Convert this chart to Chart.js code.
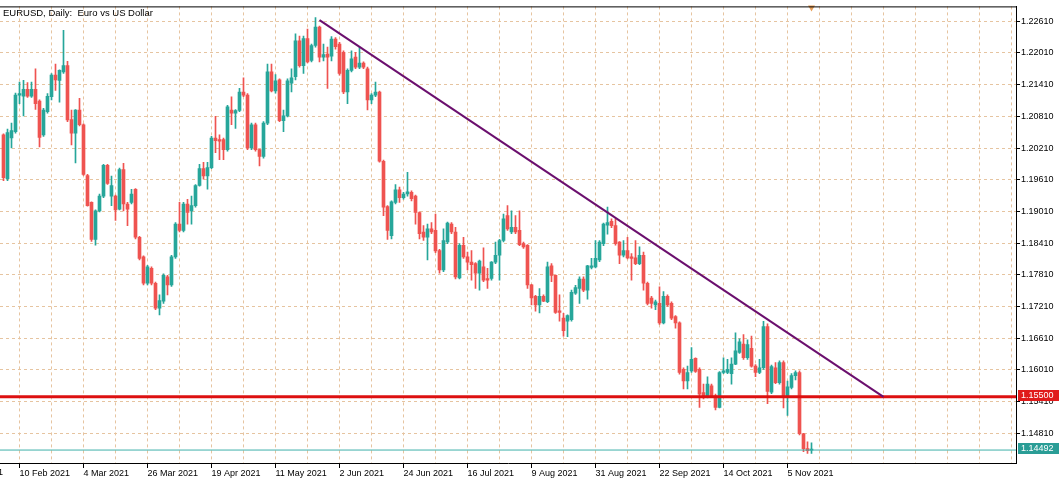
<!DOCTYPE html>
<html>
<head>
<meta charset="utf-8">
<title>EURUSD Daily</title>
<script src="https://cdn.jsdelivr.net/npm/chart.js@4.4.1/dist/chart.umd.min.js"></script>
<style>
  html, body { margin: 0; padding: 0; background: #fff; }
  #wrap { width: 1060px; height: 483px; }
</style>
</head>
<body>
<div id="wrap"><canvas id="chart" width="1060" height="483"></canvas></div>
<script>
// Daily EURUSD candles, one per trading day starting 4 Feb 2021 (bar index 0)
const opens = [
  1.2046, 1.1963, 1.2040, 1.2052, 1.2121, 1.2119, 1.2132, 1.2119, 1.2132, 1.2110,
  1.2046, 1.2090, 1.2118, 1.2159, 1.2149, 1.2165, 1.2177, 1.2075, 1.2049, 1.2093,
  1.2065, 1.1969, 1.1918, 1.1848, 1.1902, 1.1930, 1.1988, 1.1930, 1.1930, 1.1905,
  1.1980, 1.1915, 1.1918, 1.1943, 1.1852, 1.1815, 1.1765, 1.1793, 1.1765, 1.1718,
  1.1731, 1.1777, 1.1762, 1.1815, 1.1877, 1.1865, 1.1915, 1.1902, 1.1912, 1.1950,
  1.1982, 1.1968, 1.1984, 1.2040, 1.2037, 1.2037, 1.2018, 1.2093, 1.2087, 1.2092,
  1.2127, 1.2121, 1.2021, 1.2065, 1.2018, 1.2005, 1.2068, 1.2165, 1.2129, 1.2150,
  1.2073, 1.2082, 1.2144, 1.2156, 1.2224, 1.2177, 1.2228, 1.2187, 1.2215, 1.2250,
  1.2193, 1.2199, 1.2195, 1.2227, 1.2218, 1.2202, 1.2127, 1.2168, 1.2193, 1.2174,
  1.2182, 1.2171, 1.2112, 1.2121, 1.2127, 1.1996, 1.1910, 1.1855, 1.1918, 1.1942,
  1.1927, 1.1934, 1.1937, 1.1930, 1.1899, 1.1862, 1.1852, 1.1868, 1.1865, 1.1827,
  1.1790, 1.1843, 1.1877, 1.1862, 1.1775, 1.1837, 1.1815, 1.1805, 1.1802, 1.1784,
  1.1796, 1.1774, 1.1774, 1.1805, 1.1818, 1.1846, 1.1893, 1.1862, 1.1871, 1.1865,
  1.1840, 1.1837, 1.1762, 1.1740, 1.1724, 1.1740, 1.1730, 1.1798, 1.1780, 1.1713,
  1.1699, 1.1693, 1.1696, 1.1746, 1.1755, 1.1773, 1.1752, 1.1795, 1.1796, 1.1809,
  1.1840, 1.1875, 1.1882, 1.1874, 1.1843, 1.1818, 1.1827, 1.1815, 1.1813, 1.1802,
  1.1818, 1.1765, 1.1737, 1.1724, 1.1727, 1.1690, 1.1740, 1.1727, 1.1702, 1.1690,
  1.1602, 1.1580, 1.1599, 1.1623, 1.1602, 1.1558, 1.1549, 1.1571, 1.1552, 1.1530,
  1.1596, 1.1596, 1.1594, 1.1612, 1.1634, 1.1650, 1.1624, 1.1642, 1.1608, 1.1596,
  1.1605, 1.1683, 1.1559, 1.1605, 1.1577, 1.1615, 1.1552, 1.1568, 1.1590, 1.1596,
  1.1480, 1.1452, 1.1449
];
const highs = [
  1.2048, 1.2057, 1.2068, 1.2125, 1.2146, 1.2149, 1.2145, 1.2146, 1.2171, 1.2112,
  1.2096, 1.2124, 1.2162, 1.2180, 1.2169, 1.2244, 1.2185, 1.2093, 1.2094, 1.2115,
  1.2067, 1.1971, 1.1919, 1.1904, 1.1934, 1.1990, 1.1990, 1.1968, 1.1932, 1.1983,
  1.1992, 1.1918, 1.1943, 1.1944, 1.1854, 1.1817, 1.1799, 1.1796, 1.1767, 1.1743,
  1.1783, 1.1780, 1.1818, 1.1880, 1.1918, 1.1918, 1.1924, 1.1930, 1.1952, 1.1990,
  1.1994, 1.1994, 1.2043, 1.2081, 1.2046, 1.2040, 1.2102, 1.2118, 1.2094, 1.2134,
  1.2154, 1.2124, 1.2068, 1.2068, 1.2019, 1.2071, 1.2180, 1.2180, 1.2160, 1.2152,
  1.2093, 1.2152, 1.2171, 1.2237, 1.2233, 1.2233, 1.2246, 1.2218, 1.2268, 1.2252,
  1.2218, 1.2212, 1.2232, 1.2230, 1.2221, 1.2205, 1.2171, 1.2205, 1.2202, 1.2212,
  1.2184, 1.2174, 1.2124, 1.2146, 1.2129, 1.1998, 1.1912, 1.1921, 1.1952, 1.1947,
  1.1937, 1.1975, 1.1940, 1.1932, 1.1900, 1.1874, 1.1877, 1.1880, 1.1896, 1.1829,
  1.1868, 1.1881, 1.1880, 1.1871, 1.1840, 1.1852, 1.1824, 1.1827, 1.1804, 1.1809,
  1.1832, 1.1793, 1.1806, 1.1843, 1.1848, 1.1896, 1.1912, 1.1902, 1.1893, 1.1902,
  1.1843, 1.1838, 1.1763, 1.1742, 1.1755, 1.1743, 1.1805, 1.1802, 1.1781, 1.1743,
  1.1708, 1.1705, 1.1752, 1.1761, 1.1777, 1.1777, 1.1799, 1.1812, 1.1846, 1.1846,
  1.1879, 1.1909, 1.1887, 1.1887, 1.1844, 1.1846, 1.1852, 1.1821, 1.1846, 1.1834,
  1.1824, 1.1767, 1.1740, 1.1733, 1.1758, 1.1749, 1.1743, 1.1730, 1.1704, 1.1692,
  1.1605, 1.1608, 1.1643, 1.1624, 1.1605, 1.1574, 1.1588, 1.1574, 1.1555, 1.1598,
  1.1624, 1.1621, 1.1624, 1.1671, 1.1660, 1.1668, 1.1658, 1.1665, 1.1611, 1.1621,
  1.1693, 1.1688, 1.1610, 1.1615, 1.1618, 1.1618, 1.1580, 1.1594, 1.1599, 1.1599,
  1.1481, 1.1465, 1.1463
];
const lows = [
  1.1959, 1.1959, 1.2021, 1.2049, 1.2105, 1.2082, 1.2117, 1.2117, 1.2094, 1.2023,
  1.2043, 1.2087, 1.2112, 1.2130, 1.2108, 1.2162, 1.2071, 1.2027, 1.1993, 1.2063,
  1.1969, 1.1911, 1.1844, 1.1837, 1.1900, 1.1927, 1.1952, 1.1912, 1.1884, 1.1904,
  1.1902, 1.1874, 1.1915, 1.1849, 1.1809, 1.1762, 1.1762, 1.1762, 1.1715, 1.1705,
  1.1727, 1.1743, 1.1759, 1.1812, 1.1862, 1.1862, 1.1877, 1.1877, 1.1909, 1.1949,
  1.1962, 1.1943, 1.1982, 1.2012, 1.1999, 1.1999, 1.2015, 1.2065, 1.2058, 1.2090,
  1.2118, 1.2018, 1.2018, 1.2015, 1.1987, 1.2002, 1.2065, 1.2127, 1.2125, 1.2071,
  1.2052, 1.2080, 1.2127, 1.2150, 1.2174, 1.2162, 1.2182, 1.2184, 1.2212, 1.2184,
  1.2186, 1.2134, 1.2186, 1.2208, 1.2159, 1.2124, 1.2105, 1.2165, 1.2171, 1.2171,
  1.2171, 1.2093, 1.2105, 1.2118, 1.1994, 1.1893, 1.1848, 1.1849, 1.1915, 1.1918,
  1.1924, 1.1930, 1.1921, 1.1877, 1.1849, 1.1846, 1.1809, 1.1859, 1.1823, 1.1784,
  1.1787, 1.1840, 1.1859, 1.1773, 1.1773, 1.1812, 1.1790, 1.1771, 1.1755, 1.1752,
  1.1768, 1.1755, 1.1771, 1.1802, 1.1771, 1.1843, 1.1865, 1.1859, 1.1859, 1.1836,
  1.1831, 1.1755, 1.1724, 1.1712, 1.1709, 1.1730, 1.1728, 1.1768, 1.1708, 1.1693,
  1.1665, 1.1664, 1.1693, 1.1744, 1.1727, 1.1749, 1.1735, 1.1792, 1.1794, 1.1806,
  1.1836, 1.1858, 1.1870, 1.1837, 1.1802, 1.1815, 1.1811, 1.1771, 1.1800, 1.1800,
  1.1752, 1.1724, 1.1718, 1.1715, 1.1687, 1.1688, 1.1721, 1.1696, 1.1680, 1.1593,
  1.1565, 1.1565, 1.1596, 1.1596, 1.1530, 1.1546, 1.1548, 1.1549, 1.1525, 1.1529,
  1.1594, 1.1594, 1.1574, 1.1611, 1.1632, 1.1621, 1.1621, 1.1606, 1.1588, 1.1594,
  1.1602, 1.1537, 1.1556, 1.1575, 1.1574, 1.1529, 1.1515, 1.1565, 1.1582, 1.1478,
  1.1446, 1.1443, 1.1443
];
const closes = [
  1.1965, 1.2050, 1.2054, 1.2121, 1.2124, 1.2132, 1.2119, 1.2132, 1.2105, 1.2041,
  1.2093, 1.2119, 1.2159, 1.2150, 1.2168, 1.2177, 1.2074, 1.2049, 1.2093, 1.2065,
  1.1971, 1.1912, 1.1848, 1.1902, 1.1930, 1.1988, 1.1954, 1.1950, 1.1904, 1.1980,
  1.1915, 1.1905, 1.1934, 1.1852, 1.1812, 1.1765, 1.1796, 1.1765, 1.1718, 1.1732,
  1.1780, 1.1762, 1.1815, 1.1877, 1.1865, 1.1915, 1.1899, 1.1912, 1.1950, 1.1982,
  1.1968, 1.1984, 1.2040, 1.2035, 1.2034, 1.2018, 1.2099, 1.2087, 1.2092, 1.2127,
  1.2121, 1.2021, 1.2065, 1.2018, 1.2005, 1.2068, 1.2165, 1.2129, 1.2148, 1.2073,
  1.2082, 1.2148, 1.2154, 1.2224, 1.2177, 1.2228, 1.2184, 1.2215, 1.2250, 1.2193,
  1.2198, 1.2193, 1.2227, 1.2213, 1.2162, 1.2127, 1.2168, 1.2190, 1.2174, 1.2182,
  1.2174, 1.2112, 1.2121, 1.2127, 1.1996, 1.1909, 1.1865, 1.1919, 1.1942, 1.1927,
  1.1934, 1.1938, 1.1925, 1.1899, 1.1859, 1.1852, 1.1868, 1.1862, 1.1826, 1.1790,
  1.1846, 1.1879, 1.1862, 1.1777, 1.1837, 1.1815, 1.1805, 1.1800, 1.1784, 1.1807,
  1.1771, 1.1771, 1.1805, 1.1818, 1.1846, 1.1887, 1.1868, 1.1871, 1.1862, 1.1838,
  1.1834, 1.1762, 1.1737, 1.1724, 1.1740, 1.1731, 1.1796, 1.1780, 1.1710, 1.1710,
  1.1675, 1.1704, 1.1748, 1.1757, 1.1773, 1.1752, 1.1798, 1.1798, 1.1812, 1.1843,
  1.1877, 1.1880, 1.1874, 1.1840, 1.1818, 1.1827, 1.1813, 1.1812, 1.1802, 1.1818,
  1.1765, 1.1727, 1.1727, 1.1730, 1.1690, 1.1740, 1.1724, 1.1699, 1.1690, 1.1596,
  1.1580, 1.1596, 1.1621, 1.1598, 1.1555, 1.1549, 1.1574, 1.1552, 1.1530, 1.1596,
  1.1599, 1.1602, 1.1612, 1.1637, 1.1654, 1.1624, 1.1649, 1.1608, 1.1596, 1.1605,
  1.1683, 1.1560, 1.1607, 1.1577, 1.1615, 1.1552, 1.1569, 1.1590, 1.1596, 1.1480,
  1.1452, 1.1448, 1.14492
];

// axis labels
const dateLabels = ['21 Jan 2021', '10 Feb 2021', '4 Mar 2021', '26 Mar 2021', '19 Apr 2021',
  '11 May 2021', '2 Jun 2021', '24 Jun 2021', '16 Jul 2021', '9 Aug 2021', '31 Aug 2021',
  '22 Sep 2021', '14 Oct 2021', '5 Nov 2021'];
const firstLabelBar = -12;   // bar index of the first date label (left of the visible area)
const priceTicks = [1.14810, 1.15410, 1.16010, 1.16610, 1.17210, 1.17810, 1.18410,
  1.19010, 1.19610, 1.20210, 1.20810, 1.21410, 1.22010, 1.22610];

// drawn objects
const supportLevel = 1.15500;
const lastPrice = 1.14492;
const trendStart = { bar: 79, price: 1.2263 };
const trendEnd = { bar: 220, price: 1.1550 };
const shiftMarker = { bar: 202, price: 1.2287 };

const TEAL = '#26a69a';
const RED = '#ef5350';
const GRID = '#e6c4a0';
const FONT = { family: 'Liberation Sans, Arial, sans-serif', size: 9 };

const barLabel = v => {
  const k = (v - firstLabelBar) / 16;
  return Number.isInteger(k) && k >= 0 && k < dateLabels.length ? dateLabels[k] : '';
};

const candleColor = ctx => {
  const i = ctx.dataIndex;
  if (i === undefined) return TEAL;
  return closes[i] >= opens[i] ? TEAL : RED;
};

// title, top frame line, the clipped first date and the price boxes on the right axis
const overlayPlugin = {
  id: 'overlay',
  afterDraw(chart) {
    const { ctx, chartArea } = chart;
    const xScale = chart.scales.x;
    const yScale = chart.scales.y;
    ctx.save();
    ctx.strokeStyle = '#000';
    ctx.lineWidth = 1;
    ctx.beginPath();
    ctx.moveTo(chartArea.left, chartArea.top + 0.5);
    ctx.lineTo(chartArea.right, chartArea.top + 0.5);
    ctx.stroke();

    ctx.font = '9.5px "Liberation Sans", Arial, sans-serif';
    ctx.fillStyle = '#000';
    ctx.textBaseline = 'alphabetic';
    ctx.textAlign = 'left';
    ctx.fillText('EURUSD, Daily:  Euro vs US Dollar', 3, 16);

    // first date label sits left of the plot, only its tail shows
    ctx.font = '9px "Liberation Sans", Arial, sans-serif';
    ctx.textBaseline = 'top';
    ctx.fillText(dateLabels[0], xScale.getPixelForValue(firstLabelBar) - 2, chartArea.bottom + 5);

    const box = (price, bg) => {
      const y = Math.round(yScale.getPixelForValue(price));
      ctx.fillStyle = bg;
      ctx.fillRect(chartArea.right + 2, y - 7, 41, 11);
      ctx.fillStyle = '#fff';
      ctx.textBaseline = 'middle';
      ctx.fillText(price.toFixed(5), chartArea.right + 5, y - 1);
    };
    box(supportLevel, '#e01b1b');
    box(lastPrice, '#2a9d96');
    ctx.restore();
  }
};

new Chart(document.getElementById('chart'), {
  type: 'bar',
  data: {
    datasets: [{
      label: 'wicks',
      data: opens.map((o, i) => ({ x: i, y: [lows[i], highs[i]] })),
      backgroundColor: candleColor,
      borderWidth: 0,
      barThickness: 1,
      grouped: false,
      order: 3
    }, {
      label: 'bodies',
      data: opens.map((o, i) => ({ x: i, y: [o, closes[i]] })),
      backgroundColor: candleColor,
      borderWidth: 0,
      barThickness: 3,
      minBarLength: 1,
      grouped: false,
      order: 2
    }, {
      type: 'line',
      label: 'support',
      data: [{ x: -5, y: supportLevel }, { x: 260, y: supportLevel }],
      borderColor: '#dd1010',
      borderWidth: 3,
      pointRadius: 0,
      order: 1
    }, {
      type: 'line',
      label: 'bid',
      data: [{ x: -5, y: lastPrice }, { x: 260, y: lastPrice }],
      borderColor: '#3fb0aa',
      borderWidth: 1,
      pointRadius: 0,
      order: 1
    }, {
      type: 'line',
      label: 'trend',
      data: [{ x: trendStart.bar, y: trendStart.price }, { x: trendEnd.bar, y: trendEnd.price }],
      borderColor: '#6b0f6e',
      borderWidth: 2,
      pointRadius: 0,
      order: 0
    }, {
      type: 'line',
      label: 'shift',
      data: [{ x: shiftMarker.bar, y: shiftMarker.price }],
      showLine: false,
      pointStyle: 'triangle',
      rotation: 180,
      pointRadius: 4,
      backgroundColor: '#e8a05a',
      borderWidth: 0,
      clip: false,
      order: 0
    }]
  },
  options: {
    responsive: false,
    devicePixelRatio: 1,
    animation: false,
    events: [],
    layout: { padding: { top: 2, left: 0, right: 0, bottom: 0 }, autoPadding: false },
    plugins: {
      legend: { display: false },
      title: { display: false },
      tooltip: { enabled: false }
    },
    scales: {
      x: {
        type: 'linear',
        position: 'bottom',
        min: -0.875,
        max: 253.125,
        offset: false,
        afterBuildTicks: scale => {
          const ticks = [];
          for (let v = firstLabelBar + 16; v <= 252; v += 8) ticks.push({ value: v });
          scale.ticks = ticks;
        },
        afterFit: scale => {
          scale.height = 20;
          scale.paddingLeft = 0;
          scale.paddingRight = 0;
        },
        ticks: {
          autoSkip: false,
          maxRotation: 0,
          align: 'start',
          padding: 0,
          color: '#000',
          font: FONT,
          callback: v => barLabel(v)
        },
        grid: {
          color: GRID,
          lineWidth: 1,
          offset: false,
          tickLength: 5,
          tickBorderDash: [],
          tickColor: ctx => (ctx.tick && barLabel(ctx.tick.value) ? '#000' : 'rgba(0,0,0,0)')
        },
        border: { display: true, color: '#000', width: 1, dash: [3, 3] }
      },
      y: {
        type: 'linear',
        position: 'right',
        min: 1.14247,
        max: 1.22891,
        afterBuildTicks: scale => { scale.ticks = priceTicks.map(v => ({ value: v })); },
        afterFit: scale => { scale.width = 44; },
        ticks: {
          color: '#000',
          font: FONT,
          padding: 1,
          callback: v => Number(v).toFixed(5)
        },
        grid: {
          color: GRID,
          lineWidth: 1,
          tickLength: 4,
          tickColor: '#000',
          tickBorderDash: []
        },
        border: { display: true, color: '#000', width: 1, dash: [3, 3] }
      }
    }
  },
  plugins: [overlayPlugin]
});
</script>
</body>
</html>
